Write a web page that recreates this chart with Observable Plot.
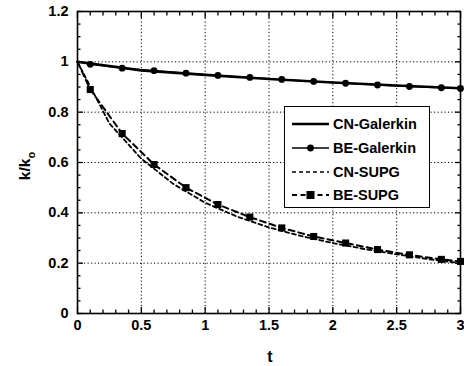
<!DOCTYPE html>
<html>
<head>
<meta charset="utf-8">
<script src="https://cdn.jsdelivr.net/npm/d3@7"></script>
<script src="https://cdn.jsdelivr.net/npm/@observablehq/plot@0.6"></script>
<style>
  html, body { margin: 0; padding: 0; background: #fff; }
  #wrap { position: relative; width: 464px; height: 366px; font-family: "Liberation Sans", Arial, sans-serif; }
  #legend {
    position: absolute; left: 284px; top: 106px; width: 146px; height: 102px;
    border: 1.2px solid #000; background: #fff; box-sizing: border-box;
    font-weight: bold; font-size: 14.5px; color: #000;
  }
  .row { position: absolute; left: 0; height: 20px; display: flex; align-items: center; }
  .row svg { margin-left: 7px; margin-right: 4px; }
</style>
</head>
<body>
<div id="wrap"><div id="legend"></div></div>
<script>
// time samples and relative values k/k0 for each scheme
const cnGalT = [0, 0.5, 1, 1.5, 2, 2.5, 3];
const cnGalK = [1.0, 0.966, 0.948, 0.932, 0.918, 0.906, 0.895];

const beGalT = [0, 0.1, 0.35, 0.6, 0.85, 1.1, 1.35, 1.6, 1.85, 2.1, 2.35, 2.6, 2.85, 3];
const beGalK = [1.0, 0.99, 0.975, 0.965, 0.955, 0.946, 0.938, 0.93, 0.922, 0.915, 0.908, 0.902, 0.897, 0.894];

const cnSupgT = [0, 0.25, 0.5, 0.75, 1, 1.25, 1.5, 1.75, 2, 2.25, 2.5, 2.75, 3];
const cnSupgK = [1.0, 0.755, 0.615, 0.515, 0.44, 0.385, 0.342, 0.308, 0.28, 0.256, 0.235, 0.216, 0.2];

const beSupgT = [0, 0.1, 0.35, 0.6, 0.85, 1.1, 1.35, 1.6, 1.85, 2.1, 2.35, 2.6, 2.85, 3];
const beSupgK = [1.0, 0.89, 0.715, 0.592, 0.5, 0.433, 0.383, 0.34, 0.306, 0.28, 0.254, 0.233, 0.215, 0.207];

const seriesNames = ["CN-Galerkin", "BE-Galerkin", "CN-SUPG", "BE-SUPG"];

const xMajor = [0, 0.5, 1, 1.5, 2, 2.5, 3];
const xMinor = d3.range(0, 30).map(i => i / 10).filter(v => Math.round(v * 10) % 5 !== 0);
const yMajor = [0, 0.2, 0.4, 0.6, 0.8, 1, 1.2];
const yMinor = d3.range(0, 24).map(i => i / 20).filter(v => Math.round(v * 20) % 4 !== 0);
const xGrid = [0.5, 1, 1.5, 2, 2.5];
const yGrid = [0.2, 0.4, 0.6, 0.8, 1];

const zip = (ts, ks) => ts.map((t, i) => ({t, k: ks[i]}));
const cnGal = zip(cnGalT, cnGalK);
const beGal = zip(beGalT, beGalK);
const cnSupg = zip(cnSupgT, cnSupgK);
const beSupg = zip(beSupgT, beSupgK);

// inward ticks on all four sides of the frame
const noText = () => "";
const tickAxes = [];
for (const anchor of ["bottom", "top"]) {
  tickAxes.push(Plot.axisX(xMajor, {anchor, tickSize: -6, tickFormat: noText, label: null, strokeWidth: 1.3}));
  tickAxes.push(Plot.axisX(xMinor, {anchor, tickSize: -3.5, tickFormat: noText, label: null, strokeWidth: 1.3}));
}
for (const anchor of ["left", "right"]) {
  tickAxes.push(Plot.axisY(yMajor, {anchor, tickSize: -6, tickFormat: noText, label: null, strokeWidth: 1.3}));
  tickAxes.push(Plot.axisY(yMinor, {anchor, tickSize: -3.5, tickFormat: noText, label: null, strokeWidth: 1.3}));
}

const chart = Plot.plot({
  width: 464,
  height: 366,
  marginLeft: 77,
  marginRight: 4,
  marginTop: 11,
  marginBottom: 53,
  style: "font-family: 'Liberation Sans', Arial, sans-serif; font-size: 14.5px; font-weight: bold; color: #000; background: #fff;",
  x: {domain: [0, 3]},
  y: {domain: [0, 1.2]},
  marks: [
    Plot.gridX(xGrid, {stroke: "#000", strokeOpacity: 1, strokeWidth: 1, strokeDasharray: "1.2,2.3"}),
    Plot.gridY(yGrid, {stroke: "#000", strokeOpacity: 1, strokeWidth: 1, strokeDasharray: "1.2,2.3"}),
    ...tickAxes,
    Plot.axisX(xMajor, {anchor: "bottom", tickSize: 0, tickPadding: 6, label: null, tickFormat: d => String(d)}),
    Plot.axisY(yMajor, {anchor: "left", tickSize: 0, tickPadding: 9, label: null, tickFormat: d => String(d)}),
    Plot.line(cnSupg, {x: "t", y: "k", stroke: "#000", strokeWidth: 1.8, strokeDasharray: "4,3"}),
    Plot.line(beSupg, {x: "t", y: "k", stroke: "#000", strokeWidth: 2, strokeDasharray: "6,4"}),
    Plot.dot(beSupg.filter(d => d.t > 0), {x: "t", y: "k", symbol: "square", r: 4, fill: "#000", stroke: "none"}),
    Plot.line(cnGal, {x: "t", y: "k", stroke: "#000", strokeWidth: 2.6}),
    Plot.line(beGal, {x: "t", y: "k", stroke: "#000", strokeWidth: 1.5}),
    Plot.dot(beGal.filter(d => d.t > 0), {x: "t", y: "k", r: 3.4, fill: "#000", stroke: "none"}),
    Plot.frame({stroke: "#000", strokeWidth: 1.6})
  ]
});

const svg = d3.select(chart);
// axis titles
svg.append("text")
  .attr("x", 270).attr("y", 362)
  .attr("text-anchor", "middle")
  .attr("font-size", 16)
  .attr("fill", "#000")
  .text("t");
const yl = svg.append("text")
  .attr("transform", "translate(30,166) rotate(-90)")
  .attr("text-anchor", "middle")
  .attr("font-size", 15.5)
  .attr("fill", "#000");
yl.append("tspan").text("k/k");
yl.append("tspan").attr("font-size", 11).attr("dy", "0.45em").text("o");

document.getElementById("wrap").prepend(chart);

// legend with line samples for each series
const legend = d3.select("#legend");
const styles = [
  {w: 2.6, dash: null, marker: null},
  {w: 1.5, dash: null, marker: "circle"},
  {w: 1.6, dash: "4,3", marker: null},
  {w: 2, dash: "5,3.5", marker: "square"}
];
const rowTops = [7, 30.5, 54.5, 77.5];
seriesNames.forEach((name, i) => {
  const row = legend.append("div").attr("class", "row").style("top", rowTops[i] + "px");
  const s = row.append("svg").attr("width", 37).attr("height", 12);
  s.append("line").attr("x1", 0).attr("x2", 37).attr("y1", 6).attr("y2", 6)
    .attr("stroke", "#000").attr("stroke-width", styles[i].w)
    .attr("stroke-dasharray", styles[i].dash);
  if (styles[i].marker === "circle") s.append("circle").attr("cx", 18.5).attr("cy", 6).attr("r", 3.4);
  if (styles[i].marker === "square") s.append("rect").attr("x", 14.5).attr("y", 2).attr("width", 8).attr("height", 8);
  row.append("span").text(name);
});
</script>
</body>
</html>
